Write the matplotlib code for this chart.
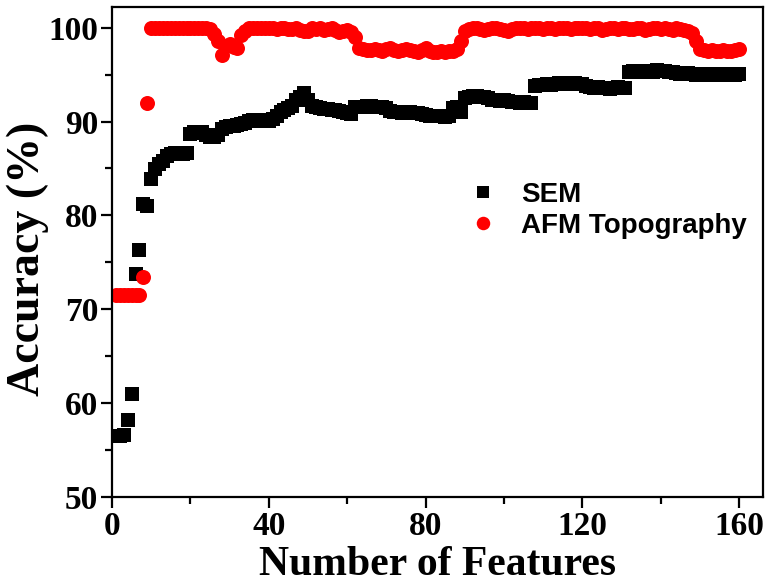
import numpy as np
import matplotlib
matplotlib.use('Agg')
import matplotlib.pyplot as plt
from matplotlib.ticker import MultipleLocator

# number of features used (1..160)
n_features = list(range(1, 161))

# SEM accuracy (%), one value per feature count
sem_acc = [
    56.5, 56.5, 56.6, 58.2, 61.0, 73.7, 76.3, 81.2, 81.0, 83.9,
    84.9, 85.5, 85.8, 86.3, 86.5, 86.6, 86.5, 86.5, 86.6, 88.7,
    88.9, 88.8, 88.9, 88.6, 88.4, 88.4, 88.6, 89.2, 89.4, 89.5,
    89.5, 89.6, 89.7, 89.8, 90.1, 90.2, 90.1, 90.2, 90.2, 90.1,
    90.3, 90.6, 91.0, 91.2, 91.4, 91.7, 92.3, 92.6, 93.0, 92.3,
    91.7, 91.5, 91.4, 91.3, 91.3, 91.2, 91.2, 91.1, 91.0, 90.9,
    90.8, 91.5, 91.6, 91.6, 91.7, 91.7, 91.6, 91.5, 91.5, 91.4,
    91.1, 91.0, 91.0, 90.9, 90.9, 91.0, 90.9, 90.9, 90.8, 90.7,
    90.6, 90.6, 90.6, 90.6, 90.5, 90.6, 91.4, 91.5, 91.0, 92.5,
    92.6, 92.7, 92.7, 92.6, 92.6, 92.5, 92.3, 92.3, 92.2, 92.3,
    92.2, 92.1, 92.1, 92.0, 92.1, 92.0, 92.0, 93.8, 93.9, 93.9,
    94.0, 93.9, 94.0, 94.1, 94.1, 94.0, 94.0, 94.1, 94.0, 94.0,
    93.8, 93.7, 93.6, 93.7, 93.6, 93.6, 93.5, 93.6, 93.7, 93.6,
    93.6, 95.3, 95.4, 95.3, 95.3, 95.4, 95.4, 95.3, 95.5, 95.4,
    95.4, 95.3, 95.3, 95.2, 95.1, 95.1, 95.2, 95.1, 95.0, 95.1,
    95.1, 95.0, 95.1, 95.1, 95.0, 95.1, 95.0, 95.1, 95.0, 95.1,
]

# AFM topography accuracy (%)
afm_acc = [
    71.5, 71.5, 71.5, 71.5, 71.5, 71.5, 71.5, 73.4, 92.0, 100.0,
    100.0, 100.0, 100.0, 100.0, 100.0, 100.0, 100.0, 100.0, 100.0, 100.0,
    100.0, 100.0, 100.0, 100.0, 99.9, 99.3, 98.6, 97.1, 98.0, 98.3,
    97.9, 97.8, 99.2, 99.7, 100.0, 100.0, 100.0, 100.0, 100.0, 100.0,
    100.0, 99.9, 100.0, 100.0, 99.9, 99.9, 100.0, 99.8, 99.6, 99.7,
    100.0, 99.9, 100.0, 99.8, 99.9, 100.0, 99.8, 99.5, 99.7, 99.8,
    99.5, 99.0, 97.8, 97.7, 97.6, 97.6, 97.7, 97.6, 97.5, 97.7,
    97.8, 97.6, 97.5, 97.6, 97.7, 97.6, 97.5, 97.4, 97.6, 97.8,
    97.5, 97.4, 97.4, 97.5, 97.4, 97.5, 97.5, 97.7, 98.6, 99.7,
    99.9, 100.0, 100.0, 99.9, 99.8, 99.9, 100.0, 100.0, 99.9, 99.8,
    99.7, 99.9, 100.0, 100.0, 100.0, 99.9, 100.0, 100.0, 100.0, 99.9,
    100.0, 100.0, 99.9, 100.0, 100.0, 100.0, 99.9, 100.0, 100.0, 100.0,
    100.0, 99.9, 100.0, 100.0, 99.8, 99.9, 100.0, 100.0, 99.9, 100.0,
    100.0, 99.9, 99.9, 100.0, 100.0, 99.8, 99.9, 100.0, 100.0, 99.9,
    100.0, 99.9, 99.8, 100.0, 99.9, 99.8, 99.7, 99.4, 98.6, 97.7,
    97.6, 97.5, 97.6, 97.5, 97.5, 97.6, 97.5, 97.5, 97.6, 97.7,
]

serif = 'Liberation Serif'
sans = 'Liberation Sans'

fig = plt.figure(figsize=(7.7, 5.88), dpi=100)
ax = fig.add_axes([0.1455, 0.155, 0.845, 0.833])

ax.plot(n_features, sem_acc, 's', color='black', ms=9.8, mew=0, label='SEM')
ax.plot(n_features, afm_acc, 'o', color='red', ms=10.8, mew=0, label='AFM Topography')

ax.set_xlim(0, 166)
ax.set_ylim(50, 102.2)
ax.xaxis.set_major_locator(MultipleLocator(40))
ax.xaxis.set_minor_locator(MultipleLocator(20))
ax.yaxis.set_major_locator(MultipleLocator(10))
ax.yaxis.set_minor_locator(MultipleLocator(5))

ax.tick_params(which='both', direction='out', top=False, right=False, width=1.6)
ax.tick_params(which='major', length=8, pad=2)
ax.tick_params(which='minor', length=5)
for lab in ax.get_xticklabels() + ax.get_yticklabels():
    lab.set_fontfamily(serif)
    lab.set_fontweight('bold')
    lab.set_fontsize(24)

for sp in ax.spines.values():
    sp.set_linewidth(1.6)

ax.set_xlabel('Number of Features', family=serif, weight='bold', fontsize=30)
ax.set_ylabel('Accuracy (%)', family=serif, weight='bold', fontsize=33)
ax.xaxis.set_label_coords(0.5, -0.1)
ax.yaxis.set_label_coords(-0.097, 0.485)

leg = ax.legend(loc='center left', bbox_to_anchor=(0.515, 0.585), frameon=False,
                numpoints=1, handlelength=0.8, handletextpad=0.95, labelspacing=0.2,
                markerscale=0.9, prop={'family': sans, 'weight': 'bold', 'size': 20})

fig.savefig('out.png', dpi=100)
